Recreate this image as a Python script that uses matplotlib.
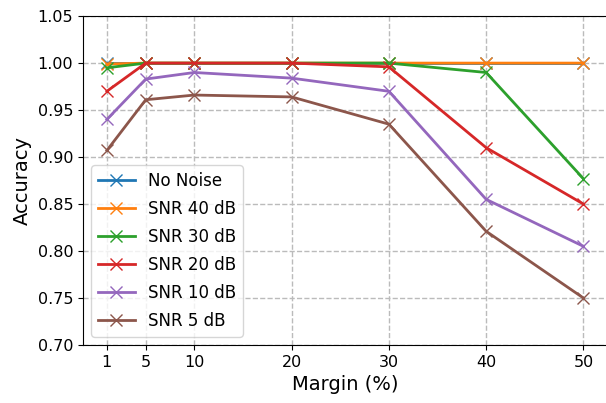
import matplotlib
matplotlib.use("Agg")
from matplotlib import pyplot as plt

# margin values (x axis)
margins = [1, 5, 10, 20, 30, 40, 50]

# accuracy per noise level
no_noise = [1.0, 1.0, 1.0, 1.0, 1.0, 1.0, 1.0]
snr_40 = [0.999, 1.0, 1.0, 1.0, 1.0, 1.0, 1.0]
snr_30 = [0.995, 1.0, 1.0, 1.0, 1.0, 0.99, 0.877]
snr_20 = [0.97, 1.0, 1.0, 1.0, 0.996, 0.91, 0.85]
snr_10 = [0.94, 0.983, 0.99, 0.984, 0.97, 0.855, 0.805]
snr_5 = [0.907, 0.961, 0.966, 0.964, 0.935, 0.821, 0.75]

series = [no_noise, snr_40, snr_30, snr_20, snr_10, snr_5]
labels = ["No Noise", "SNR 40 dB", "SNR 30 dB", "SNR 20 dB", "SNR 10 dB", "SNR 5 dB"]

fig = plt.figure(figsize=(6.06, 4.03), dpi=100)
ax = fig.add_axes([0.137, 0.144, 0.865, 0.816])

for vals, lab in zip(series, labels):
    ax.plot(margins, vals, marker="x", markersize=9, linewidth=2, label=lab)

ax.set_ylim(0.70, 1.05)
ax.set_xticks(margins)
ax.set_yticks([0.70, 0.75, 0.80, 0.85, 0.90, 0.95, 1.00, 1.05])
ax.tick_params(labelsize=11.5)
ax.set_xlabel("Margin (%)", fontsize=14)
ax.set_ylabel("Accuracy", fontsize=14)
ax.grid(True, linestyle="--", color="#bbbbbb", linewidth=1)
ax.legend(loc="lower left", fontsize=12, labelspacing=0.6, handlelength=2.2)

fig.savefig("out.png", dpi=100)
